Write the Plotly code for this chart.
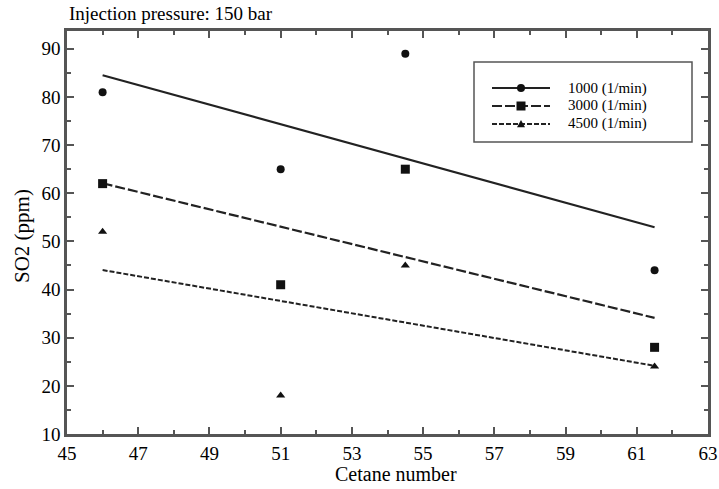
import numpy as np
import plotly.graph_objects as go

# ---- data ----
cetane = [46, 51, 54.5, 61.5]
so2_1000 = [81, 65, 89, 44]
so2_3000 = [62, 41, 65, 28]
so2_4500 = [52, 18, 45, 24]
series_names = ["1000 (1/min)", "3000 (1/min)", "4500 (1/min)"]
x_ticks = [45, 47, 49, 51, 53, 55, 57, 59, 61, 63]
y_ticks = [10, 20, 30, 40, 50, 60, 70, 80, 90]

FONT = "Liberation Serif, Times New Roman, serif"
W, H = 719, 489
ML, MR, MT, MB = 67, 11, 31, 55
PW, PH = W - ML - MR, H - MT - MB

styles = [
    dict(symbol="circle", size=8, dash="solid", width=2.2),
    dict(symbol="square", size=9, dash="10px,3px", width=2.2),
    dict(symbol="triangle-up", size=8, dash="5px,2px", width=2),
]


def px(xp):
    return (xp - ML) / PW


def py(yp):
    return (H - MB - yp) / PH


fig = go.Figure()
x = np.array(cetane, dtype=float)
for name, ys, st in zip(series_names, [so2_1000, so2_3000, so2_4500], styles):
    y = np.array(ys, dtype=float)
    k, b = np.polyfit(x, y, 1)
    xf = np.array([x.min(), x.max()])
    fig.add_trace(go.Scatter(x=xf, y=k * xf + b, mode="lines", name=name,
                             line=dict(color="#222", width=st["width"], dash=st["dash"]),
                             showlegend=False, hoverinfo="skip"))
    fig.add_trace(go.Scatter(x=cetane, y=ys, mode="markers", name=name,
                             marker=dict(symbol=st["symbol"], size=st["size"], color="#111"),
                             showlegend=False))

axis_common = dict(showgrid=False, zeroline=False, showline=True, linecolor="#555",
                   linewidth=2.5, mirror="ticks", ticks="inside", ticklen=7, tickwidth=1.5,
                   tickcolor="#555", tickfont=dict(family=FONT, size=19, color="black"),
                   automargin=False, ticklabeloverflow="allow")

fig.update_xaxes(range=[45, 63], tickvals=x_ticks, ticktext=[str(v) for v in x_ticks],
                 minor=dict(dtick=1, tick0=45, ticks="inside", ticklen=4, tickcolor="#555", tickwidth=1.5),
                 **axis_common)
fig.update_yaxes(range=[10, 93.7], tickvals=y_ticks, ticktext=[str(v) for v in y_ticks],
                 minor=dict(dtick=5, tick0=10, ticks="inside", ticklen=4, tickcolor="#555", tickwidth=1.5),
                 **axis_common)

# axis titles
fig.add_annotation(text="Cetane number", xref="paper", yref="paper", x=px(396), y=py(474),
                   xanchor="center", yanchor="middle", showarrow=False,
                   font=dict(family=FONT, size=20, color="black"))
fig.add_annotation(text="SO2 (ppm)", xref="paper", yref="paper", x=px(22), y=py(236),
                   xanchor="center", yanchor="middle", showarrow=False, textangle=-90,
                   font=dict(family=FONT, size=21, color="black"))

# ---- custom legend (box, samples, labels) ----
fig.add_shape(type="rect", xref="paper", yref="paper", x0=px(474), x1=px(692), y0=py(142), y1=py(62),
              line=dict(color="#555", width=1.5), fillcolor="white", layer="above")
entry_y = [88, 106, 124]
for name, st, ey in zip(series_names, styles, entry_y):
    fig.add_shape(type="line", xref="paper", yref="paper", x0=px(492), x1=px(550), y0=py(ey), y1=py(ey),
                  line=dict(color="#222", width=st["width"], dash=st["dash"]), layer="above")
    cx = 521
    r = st["size"] / 2
    if st["symbol"] == "circle":
        fig.add_shape(type="circle", xref="paper", yref="paper", x0=px(cx - r), x1=px(cx + r),
                      y0=py(ey + r), y1=py(ey - r), fillcolor="#111", line=dict(width=0), layer="above")
    elif st["symbol"] == "square":
        fig.add_shape(type="rect", xref="paper", yref="paper", x0=px(cx - r), x1=px(cx + r),
                      y0=py(ey + r), y1=py(ey - r), fillcolor="#111", line=dict(width=0), layer="above")
    else:
        path = "M {:.5f},{:.5f} L {:.5f},{:.5f} L {:.5f},{:.5f} Z".format(
            px(cx - r), py(ey + r * 0.8), px(cx + r), py(ey + r * 0.8), px(cx), py(ey - r))
        fig.add_shape(type="path", xref="paper", yref="paper", path=path,
                      fillcolor="#111", line=dict(width=0), layer="above")
    fig.add_annotation(text=name, xref="paper", yref="paper", x=px(567), y=py(ey),
                       xanchor="left", yanchor="middle", showarrow=False, borderpad=0,
                       font=dict(family=FONT, size=15, color="black"))

fig.add_annotation(text="Injection pressure: 150 bar", xref="paper", yref="paper", x=0, y=py(14),
                   xanchor="left", yanchor="middle", showarrow=False,
                   font=dict(family=FONT, size=19, color="black"))

fig.update_layout(
    width=W, height=H,
    margin=dict(l=ML, r=MR, t=MT, b=MB),
    paper_bgcolor="white", plot_bgcolor="white",
    font=dict(family=FONT, color="black"),
    showlegend=False,
)

fig.write_html("out.html")
